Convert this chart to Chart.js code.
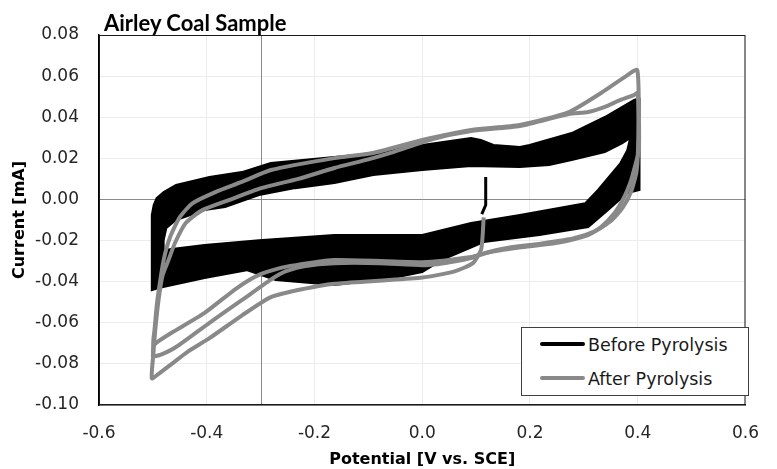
<!DOCTYPE html>
<html lang="en">
<head>
<meta charset="UTF-8">
<title>Airley Coal Sample</title>
<script src="https://cdn.jsdelivr.net/npm/chart.js"></script>
<style>
    body { margin: 0; background: #fff; }
    .wrap { position: relative; width: 777px; height: 469px; font-family: "DejaVu Sans", sans-serif; color: #000; }
    .titulo { position: absolute; left: 104px; top: 12px; font-family: Lato, sans-serif; font-size: 22px; line-height: 22px; font-weight: bold; }
    .legenda { position: absolute; left: 521px; top: 327px; width: 226px; height: 67px; border: 1px solid #404040; background: #fff; }
    .item { position: absolute; left: 18px; font-size: 17.5px; line-height: 19px; white-space: nowrap; color: #1a1a1a; }
    .item span { display: inline-block; width: 45px; height: 4px; vertical-align: middle; margin-right: 3px; position: relative; top: -2px; border-radius: 2px; }
</style>
</head>
<body>
<div class="wrap">
    <canvas id="grafico" width="777" height="469"></canvas>
    <div class="titulo">Airley Coal Sample</div>
    <div class="legenda">
        <div class="item" style="top: 8px;"><span style="background:#000"></span>Before Pyrolysis</div>
        <div class="item" style="top: 42px;"><span style="background:#898989"></span>After Pyrolysis</div>
    </div>
</div>

<script>
// axis ticks
const xTicks = [-0.6, -0.4, -0.2, 0.0, 0.2, 0.4, 0.6];
const yTicks = [-0.10, -0.08, -0.06, -0.04, -0.02, 0.00, 0.02, 0.04, 0.06, 0.08];
const crossV = -0.3; // vertical axis crosses here

// Before Pyrolysis: the noisy band, traced as its outline (outer edge, then the hole)
const beforeBandV = [-0.502, -0.502, -0.4985, -0.493, -0.480, -0.457, -0.395, -0.335, -0.281, -0.163, -0.1215, 0.0, 0.0906, 0.1087, 0.1323, 0.1812, 0.1993, 0.2773, 0.3389, 0.3933, 0.4024, 0.4042, 0.4024, 0.3806, 0.3444, 0.3081, 0.2175, 0.1142, 0.036, 0.0, -0.0544, -0.163, -0.272, -0.326, -0.404, -0.4894, -0.502, -0.502,
    -0.480, -0.480, -0.404, -0.303, -0.163, 0.0, 0.0906, 0.1812, 0.3027, 0.3262, 0.3679, 0.3806, 0.386, 0.3715, 0.3389, 0.2773, 0.2356, 0.1812, 0.0906, 0.0, -0.091, -0.163, -0.236, -0.303, -0.366, -0.404, -0.457, -0.475, -0.480, -0.502];
const beforeBandI = [-0.0198, -0.0076, -0.0027, 0.0007, 0.0036, 0.0070, 0.0109, 0.0133, 0.0177, 0.0206, 0.0216, 0.0265, 0.0299, 0.0289, 0.0265, 0.0255, 0.0265, 0.0323, 0.0401, 0.0484, 0.0493, 0.0240, 0.0046, 0.0031, -0.0052, -0.0134, -0.0173, -0.0207, -0.0295, -0.0353, -0.0382, -0.0416, -0.0392, -0.0344, -0.0382, -0.0431, -0.0441, -0.0198,
    -0.0198, -0.0246, -0.0222, -0.0198, -0.0173, -0.0173, -0.0115, -0.0076, -0.0018, 0.0046, 0.0177, 0.0240, 0.0299, 0.0274, 0.0231, 0.0192, 0.0167, 0.0158, 0.0163, 0.0143, 0.0119, 0.0080, 0.0055, 0.0021, -0.0037, -0.0052, -0.0100, -0.0139, -0.0198, -0.0198];
// start of the Before run at rest potential
const beforeSpikeV = [0.1178, 0.1178, 0.1105];
const beforeSpikeI = [0.0109, -0.0027, -0.0071];

// After Pyrolysis: cycle 1 (starts at rest potential, sweeps negative)
const afterCycle1V = [0.114, 0.112, 0.109, 0.094, 0.06, 0.0, -0.08, -0.163, -0.22, -0.281, -0.335, -0.395, -0.435, -0.465, -0.49, -0.502,
    -0.499, -0.495, -0.489, -0.482, -0.471, -0.459, -0.439, -0.408, -0.359, -0.299, -0.23, -0.163, -0.1, -0.054, 0.018, 0.091, 0.181, 0.272, 0.308, 0.339, 0.368, 0.393, 0.4,
    0.401, 0.398, 0.388, 0.372, 0.35, 0.32, 0.28, 0.22, 0.16, 0.12, 0.09, 0.04, 0.0, -0.08, -0.163, -0.22, -0.254, -0.281, -0.335, -0.395, -0.457, -0.485, -0.5];
const afterCycle1I = [-0.0087, -0.018, -0.0246, -0.031, -0.035, -0.038, -0.0395, -0.041, -0.0435, -0.0475, -0.0565, -0.0675, -0.074, -0.080, -0.085, -0.087,
    -0.075, -0.062, -0.048, -0.037, -0.0295, -0.0212, -0.0115, -0.0052, -0.0003, 0.0055, 0.010, 0.0153, 0.0195, 0.023, 0.0293, 0.0333, 0.0357, 0.0416, 0.0425, 0.045, 0.0484, 0.0508, 0.0518,
    0.030, 0.014, 0.004, -0.004, -0.0105, -0.0155, -0.019, -0.0215, -0.0235, -0.0258, -0.0285, -0.031, -0.032, -0.031, -0.031, -0.0325, -0.035, -0.039, -0.049, -0.060, -0.0718, -0.0755, -0.0766];
// After Pyrolysis: cycle 2
const afterCycle2V = [-0.5, -0.499, -0.497, -0.493, -0.489, -0.480, -0.468, -0.450, -0.426, -0.384, -0.335, -0.281, -0.163, -0.091, 0.0, 0.091, 0.181, 0.272, 0.332, 0.381, 0.399,
    0.402, 0.402, 0.393, 0.386, 0.375, 0.357, 0.332, 0.308, 0.248, 0.187, 0.127, 0.091, 0.0, -0.163, -0.254, -0.303, -0.344, -0.404, -0.466, -0.495, -0.5];
const afterCycle2I = [-0.0766, -0.068, -0.0635, -0.052, -0.044, -0.0295, -0.0183, -0.0086, -0.0018, 0.0036, 0.0085, 0.0143, 0.0201, 0.0226, 0.0289, 0.0338, 0.0362, 0.0425, 0.0518, 0.0605, 0.063,
    0.0435, 0.024, 0.0143, 0.0080, 0.0012, -0.0066, -0.0134, -0.0173, -0.0212, -0.0232, -0.0256, -0.0280, -0.0305, -0.0295, -0.0328, -0.0367, -0.0431, -0.0552, -0.065, -0.070, -0.072];

function pares(vs, is) {
    return vs.map((v, i) => ({ x: v, y: is[i] }));
}

const corPreto = '#000000';
const corCinza = '#898989';

// vertical and horizontal crossing axes + the plot frame
const moldura = {
    id: 'moldura',
    beforeDatasetsDraw(chart) {
        const { ctx, chartArea: a, scales: { x, y } } = chart;
        ctx.save();
        ctx.strokeStyle = '#8a8a8a';
        ctx.lineWidth = 1;
        const px = Math.round(x.getPixelForValue(crossV)) + 0.5;
        const py = Math.round(y.getPixelForValue(0)) + 0.5;
        ctx.beginPath();
        ctx.moveTo(px, a.top); ctx.lineTo(px, a.bottom);
        ctx.moveTo(a.left, py); ctx.lineTo(a.right, py);
        ctx.stroke();
        ctx.strokeStyle = '#1a1a1a';
        ctx.strokeRect(a.left + 0.5, a.top + 0.5, a.width - 1, a.height - 1);
        ctx.restore();
    }
};

const fonteTick = { family: 'DejaVu Sans', size: 17 };
const fonteTitulo = { family: 'DejaVu Sans', size: 16, weight: 'bold', lineHeight: 1.2 };

new Chart(document.getElementById('grafico'), {
    type: 'scatter',
    data: {
        datasets: [
            { label: 'After Pyrolysis', data: pares(afterCycle2V, afterCycle2I), showLine: true, borderColor: corCinza, borderWidth: 4, pointRadius: 0, tension: 0.2, order: 0 },
            { label: 'After Pyrolysis', data: pares(afterCycle1V, afterCycle1I), showLine: true, borderColor: corCinza, borderWidth: 4, pointRadius: 0, tension: 0.2, order: 1 },
            { label: 'Before Pyrolysis', data: pares(beforeSpikeV, beforeSpikeI), showLine: true, borderColor: corPreto, borderWidth: 3, pointRadius: 0, tension: 0, order: 2 },
            { label: 'Before Pyrolysis', data: pares(beforeBandV, beforeBandI), showLine: true, borderColor: corPreto, backgroundColor: corPreto, borderWidth: 2, fill: 'shape', pointRadius: 0, tension: 0, order: 3 }
        ]
    },
    options: {
        responsive: false,
        animation: false,
        layout: { padding: { top: 35, right: 16, left: 0, bottom: 0 } },
        plugins: {
            legend: { display: false },
            tooltip: { enabled: false }
        },
        scales: {
            x: {
                type: 'linear',
                min: xTicks[0],
                max: xTicks[xTicks.length - 1],
                afterBuildTicks: s => { s.ticks = xTicks.map(v => ({ value: v })); },
                afterFit: s => { s.height = 64; },
                grid: { color: '#ececec', drawTicks: false },
                border: { color: '#000', width: 1.5 },
                ticks: { font: fonteTick, color: '#262626', padding: 18, callback: v => v.toFixed(1) },
                title: { display: true, text: 'Potential [V vs. SCE]', font: fonteTitulo, color: '#000', padding: { top: 0, bottom: 0 } }
            },
            y: {
                type: 'linear',
                min: yTicks[0],
                max: yTicks[yTicks.length - 1],
                afterBuildTicks: s => { s.ticks = yTicks.map(v => ({ value: v })); },
                afterFit: s => { s.width = 99; },
                grid: { color: '#ececec', drawTicks: false },
                border: { color: '#000', width: 1.5 },
                ticks: { font: fonteTick, color: '#262626', padding: 20, callback: v => (Math.abs(v) < 1e-9 ? 0 : v).toFixed(2) },
                title: { display: true, text: 'Current [mA]', font: fonteTitulo, color: '#000', padding: { top: 10, bottom: 0 } }
            }
        }
    },
    plugins: [moldura]
});
</script>
</body>
</html>
